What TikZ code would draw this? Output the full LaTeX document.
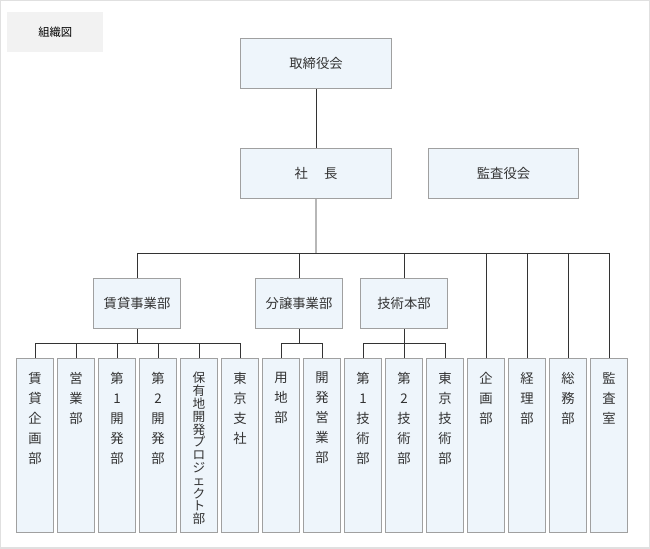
\documentclass[tikz,border=0pt]{standalone}
\usepackage{fontspec}
\usetikzlibrary{calc}
\newfontfamily\jp{Noto Sans CJK JP}
\definecolor{bx}{HTML}{EEF5FB}
\definecolor{bd}{HTML}{A0A0A0}
\definecolor{ln}{HTML}{333333}
\begin{document}
\begin{tikzpicture}[x=0.75pt,y=-0.75pt,font=\jp\fontsize{10}{12}\selectfont,
  box/.style={draw=bd,fill=bx,line width=0.8pt,anchor=north west,inner sep=0pt,text=black!80},
  con/.style={draw=ln,line width=0.6pt}]
\useasboundingbox (0,0) rectangle (650,549);
\draw[black!12,line width=1pt] (0.5,0.5) rectangle (649.5,548);
\node[fill=black!5,minimum width=96*0.75pt,minimum height=40*0.75pt,anchor=north west,inner sep=0pt,font=\jp\fontsize{8.5}{10}\selectfont] (t) at (7,12) {組織図};
\newcommand\bx[6]{\node[box,minimum width=#3*0.75pt,minimum height=#4*0.75pt] (#5) at (#1,#2) {#6};}
\bx{240}{38}{151}{50}{tori}{取締役会}
\bx{240}{148}{151}{50}{sha}{社\hspace{1.2em}長}
\bx{428}{148}{150}{50}{kan}{監査役会}
\bx{93}{278}{87}{50}{chin}{賃貸事業部}
\bx{255}{278}{87}{50}{bun}{分譲事業部}
\bx{360}{278}{87}{50}{gij}{技術本部}
\newcommand\col[4]{\node[box,minimum width=37*0.75pt,minimum height=174*0.75pt] (c#1) at ({16+41*#1},358) {};
 \node[anchor=north,align=center,inner sep=0pt,text=black!80,font=\jp\fontsize{#2}{#3}\selectfont] at ($(c#1.north)+(0,14)$) {#4};}
\col{0}{10}{15}{賃\\貸\\企\\画\\部}
\col{1}{10}{15}{営\\業\\部}
\col{2}{10}{15}{第\\1\\開\\発\\部}
\col{3}{10}{15}{第\\2\\開\\発\\部}
\col{4}{9.5}{9.6}{保\\有\\地\\開\\発\\プ\\ロ\\ジ\\ェ\\ク\\ト\\部}
\col{5}{10}{15}{東\\京\\支\\社}
\col{6}{10}{15}{用\\地\\部}
\col{7}{10}{15}{開\\発\\営\\業\\部}
\col{8}{10}{15}{第\\1\\技\\術\\部}
\col{9}{10}{15}{第\\2\\技\\術\\部}
\col{10}{10}{15}{東\\京\\技\\術\\部}
\col{11}{10}{15}{企\\画\\部}
\col{12}{10}{15}{経\\理\\部}
\col{13}{10}{15}{総\\務\\部}
\col{14}{10}{15}{監\\査\\室}
\coordinate (h) at (316,253);
\draw[con] (tori.south) -- (sha.north);
\draw[con] (sha.south) -- (h);
\draw[con] (chin.north |- h) -- (c14.north |- h);
\foreach \n in {chin,bun,gij} \draw[con] (\n.north |- h) -- (\n.north);
\foreach \i in {11,...,14} \draw[con] (c\i.north |- h) -- (c\i.north);
\coordinate (a) at (0,343);
\draw[con] (chin.south) -- (chin.south |- a);
\draw[con] (c0.north |- a) -- (c5.north |- a);
\foreach \i in {0,...,5} \draw[con] (c\i.north |- a) -- (c\i.north);
\draw[con] (bun.south) -- (bun.south |- a);
\draw[con] (c6.north |- a) -- (c7.north |- a);
\foreach \i in {6,7} \draw[con] (c\i.north |- a) -- (c\i.north);
\draw[con] (gij.south) -- (gij.south |- a);
\draw[con] (c8.north |- a) -- (c10.north |- a);
\foreach \i in {8,9,10} \draw[con] (c\i.north |- a) -- (c\i.north);
\end{tikzpicture}
\end{document}
